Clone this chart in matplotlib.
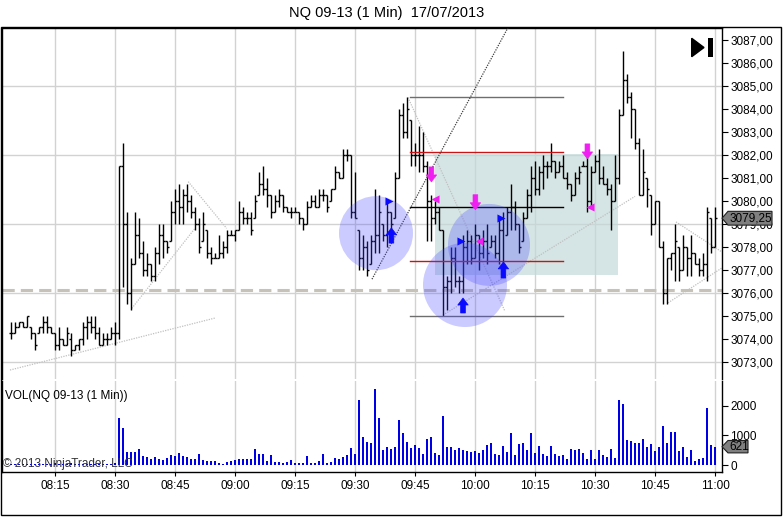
import numpy as np
import pandas as pd
import matplotlib
matplotlib.use("Agg")
import matplotlib.pyplot as plt
import matplotlib.transforms as transforms
from matplotlib.patches import Ellipse, Rectangle, Polygon

plt.rcParams["font.family"] = ["Liberation Sans", "DejaVu Sans"]

# NQ 09-13, 1 minute bars, 17/07/2013 from 08:04 to 11:00
session_day = "2013-07-17"
first_bar = "08:04"

highs = [
    3074.75, 3074.75, 3074.75, 3074.75, 3075.0, 3074.5, 3074.25, 3074.5, 3075.0, 3075.0,
    3074.5, 3074.25, 3074.5, 3074.0, 3074.5, 3074.25, 3073.75, 3074.0, 3074.75, 3075.0,
    3075.0, 3075.0, 3074.5, 3074.25, 3074.25, 3074.5, 3074.75, 3081.5, 3082.5, 3079.5,
    3077.5, 3079.5, 3079.25, 3078.25, 3077.75, 3077.25, 3078.0, 3079.0, 3079.0, 3078.25,
    3080.0, 3080.5, 3080.75, 3080.5, 3080.75, 3080.25, 3079.75, 3079.25, 3079.5, 3078.75,
    3078.0, 3077.75, 3078.5, 3078.25, 3078.75, 3078.75, 3078.75, 3080.0, 3079.75, 3079.5,
    3079.5, 3080.25, 3081.25, 3081.5, 3081.0, 3080.25, 3080.25, 3080.5, 3080.25, 3079.75,
    3079.75, 3079.75, 3079.5, 3079.25, 3080.0, 3080.25, 3080.25, 3080.5, 3080.5, 3080.25,
    3080.5, 3081.5, 3081.25, 3082.25, 3082.25, 3082.0, 3081.25, 3078.75, 3078.5, 3078.25,
    3078.5, 3080.5, 3080.25, 3079.0, 3080.0, 3079.5, 3081.25, 3084.0, 3084.25, 3084.5,
    3083.5, 3082.5, 3083.25, 3083.0, 3081.75, 3080.25, 3080.0, 3079.75, 3078.75, 3076.75,
    3078.0, 3078.0, 3076.75, 3078.5, 3078.75, 3078.5, 3079.0, 3078.5, 3078.75, 3079.0,
    3078.5, 3078.5, 3079.25, 3079.5, 3079.75, 3080.75, 3080.0, 3079.0, 3079.5, 3080.5,
    3081.5, 3081.75, 3081.5, 3082.0, 3081.75, 3082.5, 3081.75, 3081.75, 3082.0, 3081.25,
    3080.75, 3081.25, 3081.5, 3081.75, 3082.0, 3081.5, 3082.0, 3082.25, 3081.5, 3081.0,
    3080.75, 3082.0, 3084.0, 3086.5, 3085.5, 3084.75, 3084.0, 3082.75, 3082.25, 3081.0,
    3080.25, 3080.0, 3080.0, 3078.25, 3077.5, 3077.75, 3079.0, 3078.0, 3078.5, 3078.0,
    3078.5, 3077.75, 3077.5, 3077.75, 3079.75, 3079.25, 3079.75,
]
lows = [
    3074.0, 3074.25, 3074.5, 3074.5, 3074.5, 3074.0, 3073.5, 3074.25, 3074.25, 3074.25,
    3074.25, 3073.5, 3073.5, 3073.75, 3073.75, 3073.25, 3073.5, 3073.5, 3073.75, 3074.0,
    3074.25, 3074.0, 3073.75, 3073.75, 3073.75, 3074.0, 3073.75, 3074.0, 3076.25, 3075.5,
    3075.25, 3077.25, 3077.5, 3076.75, 3076.75, 3076.5, 3076.5, 3077.25, 3077.5, 3077.75,
    3078.25, 3079.0, 3079.0, 3079.0, 3079.5, 3079.25, 3078.75, 3077.75, 3078.25, 3077.5,
    3077.25, 3077.5, 3077.5, 3077.5, 3077.75, 3078.5, 3078.25, 3078.75, 3079.0, 3079.0,
    3078.5, 3079.25, 3080.25, 3080.25, 3079.75, 3079.25, 3079.5, 3079.75, 3079.5, 3079.5,
    3079.25, 3079.5, 3079.0, 3078.75, 3079.0, 3079.75, 3079.75, 3079.75, 3080.0, 3079.5,
    3080.0, 3080.5, 3081.0, 3081.0, 3081.75, 3079.25, 3079.25, 3077.0, 3077.0, 3076.75,
    3077.25, 3077.75, 3077.75, 3078.25, 3078.0, 3078.5, 3079.25, 3081.0, 3082.75, 3082.75,
    3081.5, 3081.5, 3081.25, 3081.25, 3078.25, 3078.25, 3079.0, 3078.75, 3075.0, 3075.25,
    3076.0, 3076.25, 3076.0, 3076.0, 3077.25, 3077.25, 3077.5, 3077.0, 3077.5, 3077.25,
    3078.0, 3077.5, 3077.25, 3076.75, 3078.5, 3078.75, 3078.75, 3077.75, 3078.25, 3079.25,
    3079.5, 3080.25, 3080.25, 3080.5, 3081.0, 3081.25, 3081.0, 3081.25, 3081.0, 3080.5,
    3080.0, 3080.25, 3080.75, 3081.5, 3079.5, 3079.75, 3081.25, 3080.75, 3080.75, 3080.25,
    3078.75, 3080.0, 3080.75, 3083.75, 3084.25, 3082.75, 3082.25, 3080.25, 3080.25, 3079.75,
    3078.5, 3079.0, 3078.0, 3075.5, 3075.5, 3077.0, 3076.5, 3076.5, 3077.0, 3076.75,
    3076.75, 3077.25, 3076.75, 3076.75, 3076.5, 3077.75, 3078.0,
]
opens = [
    3074.25, 3074.25, 3074.5, 3074.75, 3074.5, 3074.5, 3074.25, 3074.25, 3074.5, 3074.75,
    3074.5, 3074.25, 3073.75, 3074.0, 3073.75, 3074.0, 3073.5, 3073.75, 3074.0, 3074.5,
    3074.75, 3074.5, 3074.25, 3073.75, 3074.0, 3074.0, 3074.25, 3074.25, 3081.5, 3079.0,
    3076.0, 3077.25, 3078.5, 3077.75, 3077.0, 3077.25, 3076.75, 3077.75, 3078.5, 3078.25,
    3078.25, 3079.5, 3080.0, 3079.75, 3080.25, 3080.0, 3079.5, 3079.0, 3078.25, 3078.75,
    3077.75, 3077.5, 3077.5, 3077.75, 3078.0, 3078.5, 3078.5, 3078.75, 3079.5, 3079.25,
    3079.25, 3079.25, 3080.25, 3080.75, 3080.5, 3080.25, 3079.5, 3080.0, 3080.25, 3079.75,
    3079.5, 3079.5, 3079.5, 3079.25, 3079.0, 3079.75, 3080.0, 3079.75, 3080.25, 3080.25,
    3080.0, 3080.5, 3081.25, 3081.0, 3082.0, 3082.0, 3079.5, 3078.75, 3077.5, 3078.0,
    3077.25, 3078.25, 3078.5, 3079.0, 3078.5, 3079.5, 3079.25, 3081.0, 3083.75, 3083.0,
    3083.5, 3082.0, 3082.0, 3082.0, 3081.5, 3080.0, 3079.25, 3079.5, 3078.75, 3076.25,
    3076.5, 3077.5, 3076.5, 3076.5, 3078.0, 3078.25, 3077.5, 3078.5, 3077.75, 3078.25,
    3078.0, 3078.25, 3077.75, 3078.75, 3078.5, 3079.5, 3079.75, 3079.0, 3078.25, 3079.25,
    3080.25, 3081.0, 3080.5, 3081.25, 3081.5, 3081.5, 3081.75, 3081.25, 3081.5, 3081.0,
    3080.75, 3080.25, 3081.0, 3081.5, 3081.5, 3080.0, 3081.25, 3081.75, 3081.0, 3080.75,
    3080.5, 3080.0, 3081.0, 3083.75, 3085.25, 3084.5, 3084.0, 3082.5, 3080.25, 3081.0,
    3080.25, 3079.0, 3080.0, 3078.0, 3076.0, 3077.5, 3077.75, 3078.0, 3077.0, 3078.0,
    3077.5, 3077.75, 3077.25, 3077.0, 3077.25, 3079.25, 3078.0,
]
closes = [
    3074.25, 3074.5, 3074.75, 3074.5, 3075.0, 3074.25, 3073.75, 3074.5, 3074.75, 3074.5,
    3074.25, 3073.75, 3074.0, 3073.75, 3074.25, 3073.5, 3073.75, 3074.0, 3074.5, 3074.75,
    3074.5, 3074.25, 3073.75, 3074.0, 3074.0, 3074.25, 3074.25, 3081.5, 3079.0, 3076.0,
    3077.25, 3078.5, 3077.75, 3077.0, 3077.25, 3076.75, 3077.75, 3078.5, 3078.25, 3078.0,
    3079.5, 3080.0, 3079.75, 3080.25, 3080.0, 3079.5, 3079.0, 3078.0, 3079.0, 3077.75,
    3077.5, 3077.5, 3077.75, 3078.0, 3078.5, 3078.5, 3078.75, 3079.5, 3079.25, 3079.25,
    3078.75, 3080.0, 3080.75, 3080.5, 3080.25, 3079.5, 3080.0, 3080.25, 3079.75, 3079.5,
    3079.5, 3079.5, 3079.25, 3079.0, 3079.75, 3080.0, 3079.75, 3080.25, 3080.25, 3079.75,
    3080.5, 3081.25, 3081.0, 3082.0, 3082.0, 3079.5, 3079.25, 3077.5, 3078.0, 3077.0,
    3078.25, 3078.5, 3079.5, 3078.5, 3079.5, 3079.0, 3081.0, 3083.75, 3083.0, 3084.0,
    3082.0, 3082.0, 3082.0, 3081.5, 3080.0, 3079.25, 3079.5, 3078.75, 3076.25, 3076.5,
    3077.5, 3076.5, 3076.5, 3078.0, 3078.25, 3077.5, 3078.5, 3077.75, 3078.25, 3077.75,
    3078.25, 3077.75, 3078.75, 3077.25, 3079.5, 3079.75, 3079.0, 3078.0, 3079.25, 3080.25,
    3081.0, 3080.5, 3081.25, 3081.5, 3081.5, 3081.75, 3081.25, 3081.5, 3081.0, 3080.75,
    3080.25, 3081.0, 3081.25, 3081.5, 3080.0, 3081.25, 3081.75, 3081.0, 3080.75, 3080.5,
    3080.0, 3081.0, 3083.75, 3085.25, 3084.5, 3084.0, 3082.5, 3080.25, 3081.25, 3080.5,
    3079.0, 3080.0, 3078.0, 3076.0, 3077.5, 3077.75, 3078.25, 3077.0, 3078.0, 3077.5,
    3077.75, 3077.25, 3077.0, 3077.25, 3079.5, 3078.0, 3079.25,
]
volumes = [
    40, 30, 20, 30, 50, 30, 40, 20, 40, 50,
    30, 60, 50, 30, 40, 60, 30, 30, 40, 50,
    40, 40, 50, 30, 40, 40, 80, 1583, 1243, 452,
    452, 452, 542, 305, 282, 192, 260, 215, 170, 240,
    350, 290, 400, 300, 260, 205, 205, 380, 170, 150,
    135, 135, 60, 30, 95, 150, 170, 190, 200, 200,
    200, 540, 370, 370, 150, 340, 115, 115, 80, 115,
    170, 80, 80, 80, 305, 80, 56, 136, 375, 56,
    115, 250, 205, 260, 340, 565, 375, 2203, 938, 790,
    757, 2576, 1593, 508, 621, 542, 621, 1525, 1096, 791,
    588, 678, 588, 373, 881, 960, 418, 339, 1661, 621,
    621, 497, 588, 508, 474, 452, 474, 395, 497, 667,
    757, 373, 328, 644, 452, 1073, 339, 701, 757, 508,
    1073, 418, 644, 373, 316, 644, 373, 305, 328, 203,
    531, 508, 542, 395, 203, 508, 203, 497, 339, 282,
    531, 240, 2203, 2067, 847, 814, 757, 734, 870, 621,
    701, 474, 621, 1322, 757, 1130, 1130, 474, 621, 282,
    497, 136, 203, 249, 1921, 678, 621,
]

time_labels = ["08:15", "08:30", "08:45", "09:00", "09:15", "09:30",
               "09:45", "10:00", "10:15", "10:30", "10:45", "11:00"]
price_ticks = [3073, 3074, 3075, 3076, 3077, 3078, 3079, 3080,
               3081, 3082, 3083, 3084, 3085, 3086, 3087]
price_grid = [3073, 3076, 3079, 3082, 3085]
volume_ticks = [0, 1000, 2000]
prior_close = 3076.15

# drawing objects (x in minutes after 08:00, y in price)
fib_span = (103.75, 142.0)
fib_levels = [3084.5, 3082.125, 3079.75, 3077.375, 3075.0]
fib_colors = ["#6e6e6e", "#c81414", "#000000", "#c81414", "#6e6e6e"]
zone = (110.0, 155.75, 3076.78, 3082.05)
circles = [(95.25, 3078.6, 9.25, 1.61), (117.5, 3076.35, 10.5, 1.83), (123.5, 3078.09, 10.25, 1.78)]
buy_arrows = [(99.1, 3078.17, 3078.83), (117.0, 3075.13, 3075.78), (127.1, 3076.65, 3077.35)]
sell_arrows = [(109.1, 3081.48, 3080.83), (120.1, 3080.27, 3079.62), (148.1, 3082.48, 3081.83)]
buy_marks = [(98.6, 3080.02), (116.4, 3078.26), (126.4, 3079.28)]
sell_marks = [(109.9, 3080.09), (121.0, 3078.28), (148.75, 3079.74)]
trend_dotted = [(94.25, 3076.6), (128.6, 3087.65)]
grey_lines = [
    [(3.75, 3072.65), (55.0, 3074.91)],
    [(34.2, 3075.33), (50.0, 3078.81)],
    [(48.3, 3080.84), (57.9, 3078.81)],
    [(103.25, 3084.5), (127.5, 3075.2)],
    [(112.0, 3075.04), (160.0, 3080.2)],
    [(170.25, 3079.09), (181.75, 3077.78)],
    [(168.25, 3075.57), (181.75, 3077.09)],
]

times = pd.date_range(f"{session_day} {first_bar}", periods=len(highs), freq="1min")
x = ((times - pd.Timestamp(f"{session_day} 08:00")).total_seconds() / 60).to_numpy()
tick_x = [(int(t[:2]) - 8) * 60 + int(t[3:]) for t in time_labels]

W, H = 783, 517
fig = plt.figure(figsize=(W / 100, H / 100), dpi=100)
ax = fig.add_axes([2 / W, (H - 379) / H, 720 / W, 351 / H])
axv = fig.add_axes([2 / W, (H - 472) / H, 720 / W, 91 / H], sharex=ax)

for a in (ax, axv):
    for t in tick_x:
        a.axvline(t, color="#d2d2d2", lw=1, zorder=0)
for p in price_grid:
    ax.axhline(p, color="#d2d2d2", lw=1, zorder=0)

ax.axhline(prior_close, color="#c6c2b8", lw=2.2, dashes=(4, 2), zorder=1)
ax.add_patch(Rectangle((zone[0], zone[2]), zone[1] - zone[0], zone[3] - zone[2],
                       fc="#c4d9d9", ec="none", alpha=0.7, zorder=1))

# OHLC bars
tick_w = 0.55
ax.vlines(x, lows, highs, color="black", lw=1.0, zorder=3)
ax.hlines(opens, x - tick_w, x, color="black", lw=1.0, zorder=3)
ax.hlines(closes, x, x + tick_w, color="black", lw=1.0, zorder=3)

for lvl, col in zip(fib_levels, fib_colors):
    ax.plot(fib_span, [lvl, lvl], color=col, lw=1.0, zorder=4)

for seg in grey_lines:
    (x0, y0), (x1, y1) = seg
    ax.plot([x0, x1], [y0, y1], color="#c0c0c0", lw=0.9, ls=(0, (1, 1)), zorder=2)
(x0, y0), (x1, y1) = trend_dotted
ax.plot([x0, x1], [y0, y1], color="#404040", lw=0.9, ls=(0, (1, 1)), zorder=4)

for cx, cy, rx, ry in circles:
    ax.add_patch(Ellipse((cx, cy), 2 * rx, 2 * ry, fc="#4646ff", ec="none", alpha=0.28, zorder=5))

arrow_style = "simple,head_length=0.5,head_width=0.75,tail_width=0.34"
for xa, tail, tip in buy_arrows:
    ax.annotate("", xy=(xa, tip), xytext=(xa, tail), zorder=6,
                arrowprops=dict(arrowstyle=arrow_style, fc="#0a0aff", ec="#0a0aff",
                                lw=0.5, shrinkA=0, shrinkB=0))
for xa, tail, tip in sell_arrows:
    ax.annotate("", xy=(xa, tip), xytext=(xa, tail), zorder=6,
                arrowprops=dict(arrowstyle=arrow_style, fc="#f01ef0", ec="#f01ef0",
                                lw=0.5, shrinkA=0, shrinkB=0))
ax.scatter([m[0] for m in buy_marks], [m[1] for m in buy_marks], marker=">", s=34,
           color="#0a0aff", linewidths=0, zorder=6)
ax.scatter([m[0] for m in sell_marks], [m[1] for m in sell_marks], marker="<", s=34,
           color="#f01ef0", linewidths=0, zorder=6)

# volume
axv.bar(x, volumes, width=0.5, color="#0000e6", zorder=3)

ax.set_xlim(1.75, 181.75)
ax.set_ylim(3072.26, 3087.52)
axv.set_ylim(-237, 2847)

ax.yaxis.tick_right()
ax.set_yticks(price_ticks)
ax.set_yticklabels([f"{p:.2f}".replace(".", ",") for p in price_ticks])
axv.yaxis.tick_right()
axv.set_yticks(volume_ticks)
axv.set_yticklabels([str(v) for v in volume_ticks])
for a in (ax, axv):
    a.tick_params(axis="y", direction="out", length=4, width=0.8, labelsize=8.5, pad=2)
ax.tick_params(axis="x", bottom=False, labelbottom=False)
axv.set_xticks(tick_x)
axv.set_xticklabels(time_labels)
axv.tick_params(axis="x", direction="out", length=3, width=0.8, labelsize=8.5, pad=3)

ax.spines["bottom"].set_visible(False)
axv.spines["top"].set_visible(False)
for a in (ax, axv):
    for s in a.spines.values():
        s.set_linewidth(1.0)


def value_box(axis, value, label, half_h, width_px):
    trans = transforms.blended_transform_factory(axis.transAxes, axis.transData)
    x0, x1, x2 = 1.0, 1.0 + 6 / 720, 1.0 + width_px / 720
    pts = [(x0, value), (x1, value + half_h), (x2, value + half_h),
           (x2, value - half_h), (x1, value - half_h)]
    axis.add_patch(Polygon(pts, closed=True, transform=trans, fc="#7f7f7f", ec="#202020",
                           lw=0.8, clip_on=False, zorder=10))
    axis.text((x1 + x2) / 2 + 1 / 720, value, label, transform=trans, ha="center", va="center",
              fontsize=8.5, zorder=11, clip_on=False)


value_box(ax, closes[-1], f"{closes[-1]:.2f}".replace(".", ","), 0.3, 50)
value_box(axv, volumes[-1], str(volumes[-1]), 210, 26)

# play icon in the corner
ax.add_patch(Polygon([(0.9579, 0.9707), (0.9579, 0.9182), (0.9750, 0.9444)],
                     transform=ax.transAxes, fc="black", ec="black", zorder=10))
ax.add_patch(Rectangle((0.9812, 0.9182), 0.0058, 0.0525, transform=ax.transAxes,
                       fc="black", ec="none", zorder=10))

axv.text(3 / 720, (472 - 396) / 91, "VOL(NQ 09-13 (1 Min))", transform=axv.transAxes,
         fontsize=8.5, va="center", ha="left", zorder=8)
axv.text(1 / 720, (472 - 464) / 91, "\u00a9 2013 NinjaTrader, LLC", transform=axv.transAxes,
         fontsize=8.5, va="center", ha="left", color="#333333", zorder=8)

fig.text(387 / W, 1 - 13 / H, "NQ 09-13 (1 Min)  17/07/2013", ha="center", va="center",
         fontsize=10.5)
fig.add_artist(Rectangle((0.5 / W, 2 / H), 780.5 / W, 488 / H, transform=fig.transFigure,
                         fill=False, ec="black", lw=1.0))

fig.savefig("out.png", dpi=100)
